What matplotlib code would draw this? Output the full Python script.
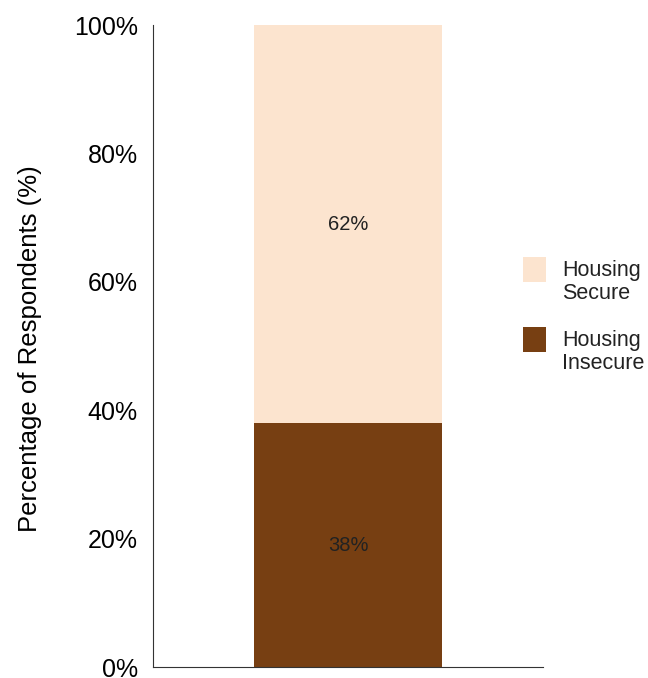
import matplotlib.pyplot as plt
from matplotlib.patches import Rectangle

plt.rcParams['font.family'] = ['Liberation Sans', 'DejaVu Sans']

categories = ['Housing\nInsecure', 'Housing\nSecure']
values = [38, 62]
colors = ['#773f12', '#fce4cf']
yticks = [0, 20, 40, 60, 80, 100]

fig = plt.figure(figsize=(6.48, 6.78), dpi=100)
ax = fig.add_axes([0.236, 0.016, 0.602, 0.947])

bottom = 0
for name, v, c in zip(categories, values, colors):
    ax.bar(0, v, width=0.48, bottom=bottom, color=c)
    ax.text(0, bottom + v / 2, str(v) + '%', ha='center', va='center', fontsize=14.5, color='#222222')
    bottom += v

ax.set_xlim(-0.5, 0.5)
ax.set_ylim(0, 100)
ax.set_xticks([])
ax.set_yticks(yticks)
ax.set_yticklabels([str(t) + '%' for t in yticks], fontsize=18)
ax.tick_params(axis='y', length=0, pad=11)
ax.spines['top'].set_visible(False)
ax.spines['right'].set_visible(False)
ax.spines['left'].set_color('#333333')
ax.spines['bottom'].set_color('#333333')
ax.set_ylabel('Percentage of Respondents (%)', fontsize=18.5)
ax.yaxis.set_label_coords(-0.285, 0.496)

# legend drawn by hand: swatch with its two-line label beside it, secure on top
sw_w, sw_h = 23 / 648, 25 / 678
step = 70 / 678
for i, (name, c) in enumerate(zip(categories[::-1], colors[::-1])):
    top = 1 - 257 / 678 - i * step
    fig.patches.append(Rectangle((523 / 648, top - sw_h), sw_w, sw_h, facecolor=c,
                                 transform=fig.transFigure, figure=fig))
    fig.text(562 / 648, top - 3 / 678, name, va='top', ha='left', fontsize=15.5,
             color='#222222', linespacing=1.15)

fig.savefig('out.png', dpi=100)
